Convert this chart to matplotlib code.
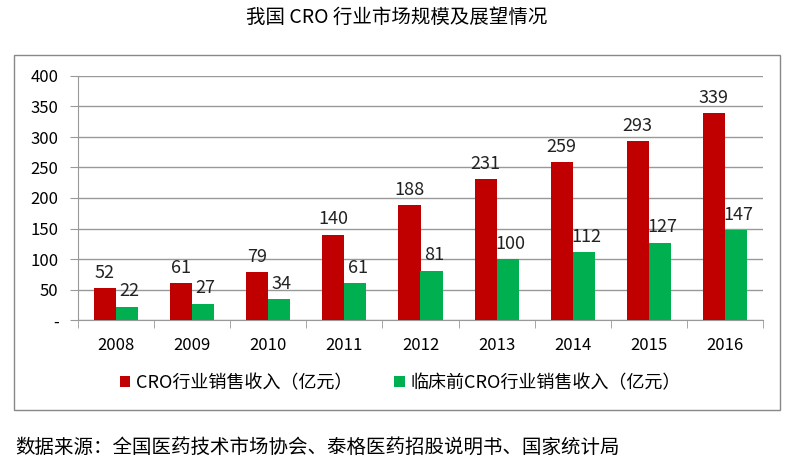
import matplotlib.pyplot as plt
import numpy as np
from matplotlib.patches import Rectangle

plt.rcParams['font.family'] = ['Noto Sans CJK SC', 'DejaVu Sans']

years = ["2008", "2009", "2010", "2011", "2012", "2013", "2014", "2015", "2016"]
cro_revenue = [52, 61, 79, 140, 188, 231, 259, 293, 339]
preclinical_revenue = [22, 27, 34, 61, 81, 100, 112, 127, 147]
yticks = [0, 50, 100, 150, 200, 250, 300, 350, 400]
ytick_labels = ["-", "50", "100", "150", "200", "250", "300", "350", "400"]

W, H = 794, 461
fig = plt.figure(figsize=(W / 100, H / 100), dpi=100)

# outer frame around chart
fig.patches.append(Rectangle((14 / W, 1 - 410 / H), (780 - 14) / W, (410 - 55) / H,
                             transform=fig.transFigure, fill=False,
                             edgecolor="#888888", linewidth=1.0))

ax = fig.add_axes([78 / W, 1 - 320 / H, (763 - 78) / W, (320 - 76) / H])

x = np.arange(len(years))
w = 0.29
red = "#C00000"
green = "#00B050"
b1 = ax.bar(x - w / 2, cro_revenue, w, color=red, label="CRO行业销售收入（亿元）", zorder=3)
b2 = ax.bar(x + w / 2, preclinical_revenue, w, color=green, label="临床前CRO行业销售收入（亿元）", zorder=3)

for rect, v in zip(b1, cro_revenue):
    ax.text(rect.get_x() + rect.get_width() / 2, v + 10, str(v), ha="center", va="bottom",
            fontsize=13, color="#222222")
for rect, v in zip(b2, preclinical_revenue):
    ax.text(rect.get_x() + rect.get_width() / 2 + 0.03, v + 10, str(v), ha="center", va="bottom",
            fontsize=13, color="#222222")

ax.set_xlim(-0.5, len(years) - 0.5)
ax.set_ylim(0, 400)
ax.set_yticks(yticks)
ax.set_yticklabels(ytick_labels, fontsize=12)
ax.grid(axis="y", color="#999999", linewidth=1.0, zorder=0)

ax.set_xticks(x)
ax.set_xticklabels(years, fontsize=12)
ax.set_xticks(np.arange(-0.5, len(years)), minor=True)
ax.tick_params(axis="x", which="major", length=0, pad=12)
ax.tick_params(axis="x", which="minor", length=6, color="#999999")
ax.tick_params(axis="y", length=6, color="#999999", pad=8)

for s in ["top", "right"]:
    ax.spines[s].set_visible(False)
ax.spines["left"].set_color("#999999")
ax.spines["bottom"].set_color("#999999")

fig.legend(handles=[b1, b2], loc="center", bbox_to_anchor=(400 / W, 1 - 383 / H),
           ncol=2, frameon=False, fontsize=13, handlelength=0.6, handleheight=0.6,
           handletextpad=0.3, columnspacing=2.3)

fig.text(0.5, 1 - 17 / H, "我国 CRO 行业市场规模及展望情况", ha="center", va="center", fontsize=14)
fig.text(15 / W, 1 - 447 / H, "数据来源：全国医药技术市场协会、泰格医药招股说明书、国家统计局",
         ha="left", va="center", fontsize=14)

fig.savefig("out.png", dpi=100)
